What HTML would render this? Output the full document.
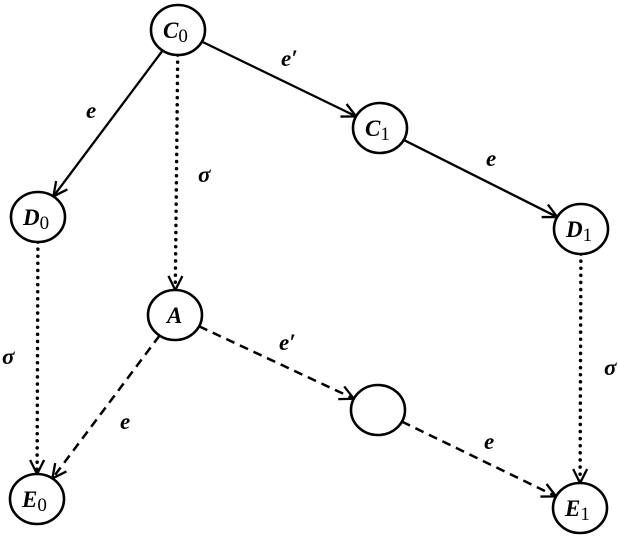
<!DOCTYPE html>
<html><head><meta charset="utf-8"><style>
html,body{margin:0;padding:0;background:#fff;}
svg{display:block}
text{font-family:"Liberation Serif",serif;font-style:italic;font-weight:bold;font-size:23px;fill:#000}
</style></head><body>
<svg id="s" width="618" height="539" viewBox="0 0 618 539" xmlns="http://www.w3.org/2000/svg"></svg>
<script>
const N={C0:[178,30],C1:[380,128],D0:[38,217],D1:[581,229],A:[175,315],X:[378,410],E0:[37,499],E1:[580,508]};
const RX=27,RY=25;
const s=document.getElementById('s');let h='';
function edge(a,b,style){
 const [x1,y1]=N[a],[x2,y2]=N[b];const dx=x2-x1,dy=y2-y1;
 const f=1/Math.sqrt((dx/RX)**2+(dy/RY)**2);
 const sx=x1+dx*f,sy=y1+dy*f,ex=x2-dx*f,ey=y2-dy*f;
 let da=style=='dot'?'stroke-dasharray="0.1 7" stroke-linecap="round" stroke-width="3.5"':style=='dash'?'stroke-dasharray="9 6" stroke-width="2.5"':'stroke-width="2.3"';
 h+=`<line x1="${sx}" y1="${sy}" x2="${ex}" y2="${ey}" stroke="#000" ${da}/>`;
 const L=Math.hypot(dx,dy),ux=dx/L,uy=dy/L,px=-uy,py=ux,al=14,aw=7;
 h+=`<polyline points="${ex-ux*al+px*aw},${ey-uy*al+py*aw} ${ex},${ey} ${ex-ux*al-px*aw},${ey-uy*al-py*aw}" fill="none" stroke="#000" stroke-width="2.3"/>`;
}
edge('C0','D0','s');edge('C0','C1','s');edge('C1','D1','s');
edge('C0','A','dot');edge('D0','E0','dot');edge('D1','E1','dot');
edge('A','E0','dash');edge('A','X','dash');edge('X','E1','dash');
const lab={C0:['C','0'],C1:['C','1'],D0:['D','0'],D1:['D','1'],A:['A',''],X:['',''],E0:['E','0'],E1:['E','1']};
for(const k in N){const[x,y]=N[k];
 h+=`<ellipse cx="${x}" cy="${y}" rx="${RX}" ry="${RY}" fill="#fff" stroke="#000" stroke-width="2.6"/>`;
 const[l,sub]=lab[k];
 if(l)h+=`<text x="${x-(sub?15:8)}" y="${y+8}">${l}${sub?`<tspan font-style="normal" font-weight="normal" font-size="19" dy="4">${sub}</tspan>`:''}</text>`;
}
const T=[['e',86,118],['e′',281,66],['σ',198,182],['e',486,166],['σ',2,364],['e′',279,350],['e',120,429],['e',484,449],['σ',604,375]];
for(const[t,x,y]of T)h+=`<text x="${x}" y="${y}">${t}</text>`;
s.innerHTML=h;
</script>
</body></html>
